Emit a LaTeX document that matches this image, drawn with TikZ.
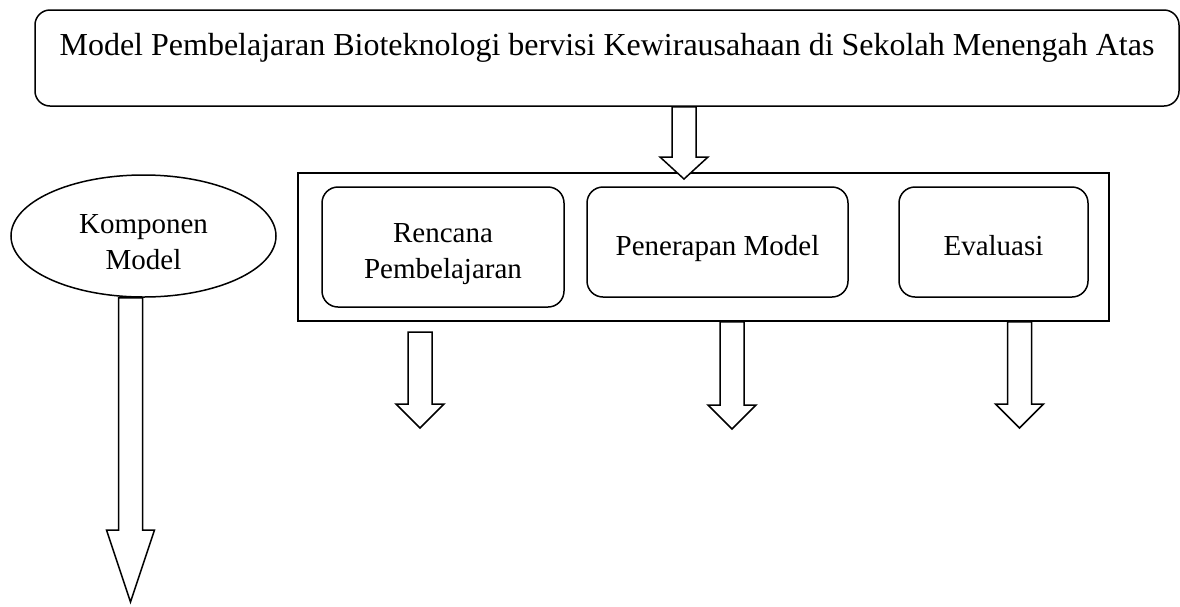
\documentclass[tikz,border=0pt]{standalone}
\usepackage{fontspec}
\setmainfont{Liberation Serif}
\usetikzlibrary{calc,shapes.geometric}

\begin{document}
\begin{tikzpicture}[x=1pt,y=-1pt,line width=1.5pt,
        kotak/.style={draw,rounded corners=16pt,inner sep=0pt,align=center,
            text height=27pt,text depth=0pt,font=\fontsize{29}{36}\selectfont},
        blok/.style={draw,fill=white,to path={let \p1=(\tikztostart),\p2=(\tikztotarget) in
            (\x1-12pt,\y1) -- (\x1-12pt,\y2+#1) -- (\x1-24pt,\y2+#1) -- (\x2,\y2)
            -- (\x1+24pt,\y2+#1) -- (\x1+12pt,\y2+#1) -- (\x1+12pt,\y1) -- cycle}},
        blok/.default=24pt]

  \useasboundingbox (0,0) rectangle (1180,606);

  \node[kotak,rounded corners=15pt,minimum width=1144pt,minimum height=96pt,
        text height=45pt,text depth=51pt,font=\fontsize{32}{40}\selectfont] (judul) at (607,58)
        {Model Pembelajaran Bioteknologi bervisi Kewirausahaan di Sekolah Menengah Atas};

  \node[draw,minimum width=811pt,minimum height=148pt,inner sep=0pt] (wadah) at (703.5,247) {};
  \node[kotak,text height=63pt,minimum width=242pt,minimum height=120pt] (rencana) at (443,247) {Rencana\\Pembelajaran};
  \node[kotak,minimum width=261pt,minimum height=110pt] (penerapan) at (717.5,242) {Penerapan Model};
  \node[kotak,minimum width=189pt,minimum height=110pt] (evaluasi) at (993.5,242) {Evaluasi};

  \node[draw,ellipse,inner sep=0pt,minimum width=265pt,minimum height=122pt,align=center,
        text height=66pt,text depth=0pt,font=\fontsize{29}{36}\selectfont] (komponen) at (143.5,236) {Komponen\\Model};

  % ujung panah
  \coordinate (u1) at (684,179);
  \coordinate (a2) at (420,332);
  \coordinate (u2) at (420,428);
  \coordinate (u3) at (732,429);
  \coordinate (u4) at (1019.5,428);
  \coordinate (u5) at (130.5,602);

  \path (judul.south -| u1) edge[blok=22pt] (u1)
        (a2) edge[blok] (u2)
        (wadah.south -| u3) edge[blok] (u3)
        (wadah.south -| u4) edge[blok] (u4)
        (komponen.south -| u5) edge[blok=72pt] (u5);
\end{tikzpicture}
\end{document}
